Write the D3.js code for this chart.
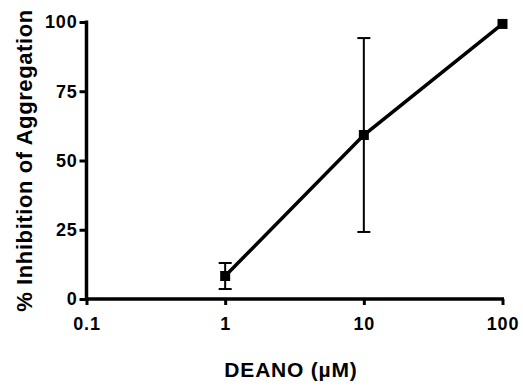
<!DOCTYPE html>
<html>
<head>
<meta charset="utf-8">
<script src="https://cdn.jsdelivr.net/npm/d3@7"></script>
<style>
  body { margin: 0; background: #fff; }
  svg { display: block; }
</style>
</head>
<body>
<div id="chart"></div>
<script>
// DEANO concentration (µM), % inhibition (mean) and error (±)
const concentrations = [1, 10, 100];
const inhibition = [8.3, 59.2, 99.3];
const errors = [4.7, 35.0, 0];
const xTicks = [0.1, 1, 10, 100];
const yTicks = [0, 25, 50, 75, 100];

const size = { width: 523, height: 387 };
const font = "Liberation Sans, Arial, Helvetica, sans-serif";

const svg = d3.select("#chart").append("svg")
  .attr("width", size.width)
  .attr("height", size.height);

const x = d3.scaleLog().domain([0.1, 100]).range([86.5, 502.5]);
const y = d3.scaleLinear().domain([0, 100]).range([299, 22]);

const data = concentrations.map((c, i) => ({ c, v: inhibition[i], e: errors[i] }));

// y axis
const yAxis = svg.append("g")
  .attr("transform", `translate(${x(0.1)},0)`)
  .call(d3.axisLeft(y).tickValues(yTicks).tickSize(7).tickPadding(2).tickSizeOuter(0));

// x axis
const xAxis = svg.append("g")
  .attr("transform", `translate(0,${y(0)})`)
  .call(d3.axisBottom(x).tickValues(xTicks).tickFormat(d3.format("")).tickSize(6).tickPadding(12).tickSizeOuter(0));

[yAxis, xAxis].forEach(g => {
  g.select(".domain").attr("stroke", "#000").attr("stroke-width", 3.5);
  g.selectAll(".tick line").attr("stroke", "#000").attr("stroke-width", 3);
  g.selectAll(".tick text")
    .attr("fill", "#000")
    .style("font-family", font)
    .style("font-weight", "bold")
    .style("font-size", "18px")
    .style("letter-spacing", "0.8px");
});
// stretch the domains to meet at the corner
yAxis.select(".domain").attr("d", `M0,${y(100) - 1.5}V${y(0) + 1.5}`);
xAxis.select(".domain").attr("d", `M${x(0.1) - 1.5},0H${x(100) + 1.5}`);

// error bars
const eb = svg.append("g").selectAll("g")
  .data(data.filter(d => d.e > 0))
  .join("g")
  .attr("stroke", "#000")
  .attr("stroke-width", 2);
eb.append("line")
  .attr("x1", d => x(d.c)).attr("x2", d => x(d.c))
  .attr("y1", d => y(d.v + d.e)).attr("y2", d => y(d.v - d.e));
eb.append("line")
  .attr("x1", d => x(d.c) - 6.5).attr("x2", d => x(d.c) + 6.5)
  .attr("y1", d => y(d.v + d.e)).attr("y2", d => y(d.v + d.e));
eb.append("line")
  .attr("x1", d => x(d.c) - 6.5).attr("x2", d => x(d.c) + 6.5)
  .attr("y1", d => y(d.v - d.e)).attr("y2", d => y(d.v - d.e));

// line
svg.append("path")
  .datum(data)
  .attr("fill", "none")
  .attr("stroke", "#000")
  .attr("stroke-width", 3.5)
  .attr("d", d3.line().x(d => x(d.c)).y(d => y(d.v)));

// markers
svg.append("g").selectAll("rect")
  .data(data)
  .join("rect")
  .attr("x", d => x(d.c) - 5)
  .attr("y", d => y(d.v) - 5)
  .attr("width", 10)
  .attr("height", 10)
  .attr("fill", "#000");

// axis titles
svg.append("text")
  .attr("x", 291)
  .attr("y", 377)
  .attr("text-anchor", "middle")
  .style("font-family", font)
  .style("font-weight", "bold")
  .style("font-size", "21px")
  .style("letter-spacing", "0.8px")
  .text("DEANO (µM)");

svg.append("text")
  .attr("transform", `translate(32,${(y(0) + y(100)) / 2}) rotate(-90)`)
  .attr("text-anchor", "middle")
  .style("font-family", font)
  .style("font-weight", "bold")
  .style("font-size", "22px")
  .style("letter-spacing", "0.6px")
  .text("% Inhibition of Aggregation");
</script>
</body>
</html>
